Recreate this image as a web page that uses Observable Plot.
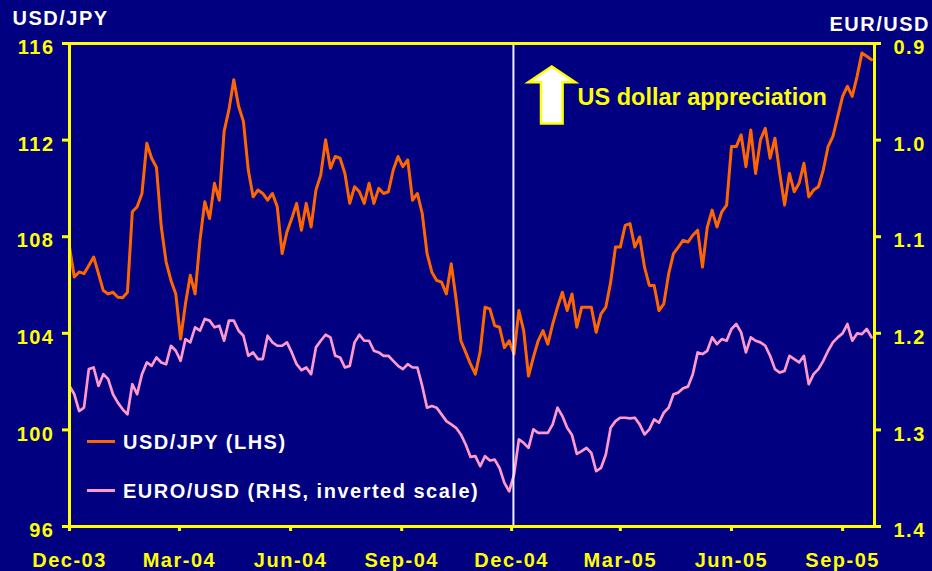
<!DOCTYPE html>
<html>
<head>
<meta charset="utf-8">
<script src="https://cdn.jsdelivr.net/npm/d3@7"></script>
<script src="https://cdn.jsdelivr.net/npm/@observablehq/plot@0.6"></script>
<style>
  html, body { margin: 0; padding: 0; background: #000080; }
  #wrap { position: relative; width: 932px; height: 571px; overflow: hidden; background: #000080;
          font-family: "Liberation Sans", Arial, sans-serif; }
  #wrap svg text { letter-spacing: 1.5px; }
  #wrap svg text.annot { letter-spacing: 0px; }
  .lg-sw { position: absolute; width: 28px; height: 3px; }
  .lg-tx { position: absolute; color: #ffffff; font-size: 20px; line-height: 20px; font-weight: bold;
           letter-spacing: 1.5px; white-space: nowrap; }
</style>
</head>
<body>
<div id="wrap"></div>
<script>
// ---- data ----
const seriesStart = "2003-12-01";   // first observation
const stepDays = 4;                 // spacing between observations

const usdJpy = [
  107.57,106.33,106.54,106.47,106.81,107.16,106.47,105.77,105.63,105.70,
  105.49,105.47,105.70,109.03,109.24,109.79,111.87,111.25,110.87,108.40,
  106.95,106.19,105.63,103.76,105.22,106.40,105.63,107.85,109.45,108.75,
  110.21,109.51,112.36,113.26,114.50,113.40,112.77,110.76,109.65,109.93,
  109.79,109.51,109.79,109.24,107.30,108.20,108.75,109.38,108.27,109.38,
  108.40,109.93,110.55,112.01,110.83,111.32,111.25,110.62,109.38,110.07,
  109.86,109.38,110.21,109.38,110.00,109.79,109.86,110.76,111.32,110.90,
  111.18,109.51,109.79,108.96,107.30,106.53,106.19,106.12,105.63,106.88,
  105.43,103.69,103.21,102.72,102.31,103.25,105.08,105.01,104.32,104.25,
  103.41,103.69,103.14,104.94,104.11,102.23,103.00,103.69,104.11,103.55,
  104.38,105.08,105.70,104.94,105.63,104.25,105.08,105.08,105.08,104.04,
  104.80,105.08,106.12,107.57,107.57,108.47,108.54,107.57,107.99,106.74,
  105.98,105.98,104.94,105.22,106.46,107.30,107.57,107.85,107.78,108.06,
  108.27,106.74,108.40,109.10,108.40,109.03,109.31,111.73,111.73,112.22,
  110.90,112.42,110.62,112.01,112.49,111.25,112.08,110.62,109.31,110.62,
  109.86,110.21,111.04,109.65,109.93,110.07,110.76,111.73,112.15,112.98,
  113.81,114.23,113.81,114.64,115.61,115.47,115.33
];

const eurUsd = [
  1.2545,1.2631,1.2805,1.2770,1.2371,1.2354,1.2545,1.2423,1.2475,1.2631,
  1.2718,1.2787,1.2839,1.2527,1.2631,1.2423,1.2302,1.2337,1.2250,1.2302,
  1.2320,1.2129,1.2181,1.2285,1.2060,1.2094,1.1938,1.1973,1.1852,1.1869,
  1.1938,1.1921,1.2077,1.1869,1.1869,1.1973,1.2025,1.2233,1.2198,1.2267,
  1.2267,1.2025,1.2094,1.2129,1.2129,1.2094,1.2198,1.2320,1.2382,1.2354,
  1.2423,1.2146,1.2077,1.2015,1.2042,1.2233,1.2250,1.2354,1.2337,1.2094,
  1.2015,1.2077,1.2077,1.2181,1.2198,1.2233,1.2233,1.2285,1.2337,1.2371,
  1.2320,1.2354,1.2354,1.2545,1.2770,1.2753,1.2770,1.2839,1.2909,1.2943,
  1.2978,1.3047,1.3151,1.3280,1.3272,1.3376,1.3272,1.3317,1.3307,1.3394,
  1.3549,1.3636,1.3463,1.3099,1.3134,1.3186,1.2995,1.3030,1.3030,1.3030,
  1.2943,1.2770,1.2857,1.2978,1.3054,1.3248,1.3220,1.3186,1.3238,1.3428,
  1.3394,1.3255,1.2978,1.2909,1.2874,1.2874,1.2881,1.2874,1.2943,1.3047,
  1.2995,1.2891,1.2926,1.2822,1.2770,1.2631,1.2614,1.2569,1.2552,1.2423,
  1.2198,1.2215,1.2181,1.2042,1.2112,1.2060,1.2077,1.1956,1.1904,1.1990,
  1.2198,1.2042,1.2077,1.2094,1.2129,1.2233,1.2371,1.2406,1.2389,1.2233,
  1.2267,1.2302,1.2233,1.2527,1.2423,1.2371,1.2285,1.2181,1.2094,1.2042,
  1.2001,1.1904,1.2077,1.2001,1.2008,1.1956,1.2042
];

const xTickDates = ["2003-12-01","2004-03-01","2004-06-01","2004-09-01","2004-12-01","2005-03-01","2005-06-01","2005-09-01"];
const xTickLabels = ["Dec-03","Mar-04","Jun-04","Sep-04","Dec-04","Mar-05","Jun-05","Sep-05"];
const jpyTicks = [96, 100, 104, 108, 112, 116];
const eurTicks = [0.9, 1.0, 1.1, 1.2, 1.3, 1.4];
const jpyDomain = [96, 116];
const eurDomain = [0.9, 1.4];           // inverted: 0.9 at the top
const xDomain = ["2003-12-01", "2005-09-27T10:00Z"];
const markerDate = "2004-12-02T12:00Z"; // vertical white line

const seriesNames = ["USD/JPY (LHS)", "EURO/USD (RHS, inverted scale)"];
const colors = ["#FF6600", "#FF99CC"];
const leftTitle = "USD/JPY";
const rightTitle = "EUR/USD";
const annotationText = "US dollar appreciation";

// ---- build ----
const parse = s => new Date(s.length === 10 ? s + "T00:00Z" : s);
const start = parse(seriesStart);
const dateAt = i => d3.utcDay.offset(start, i * stepDays);
// map EUR/USD (inverted, right axis) onto the USD/JPY scale
const eurToJ = v => jpyDomain[1] - (v - eurDomain[0]) / (eurDomain[1] - eurDomain[0]) * (jpyDomain[1] - jpyDomain[0]);
const jToEur = y => eurDomain[0] + (jpyDomain[1] - y) / (jpyDomain[1] - jpyDomain[0]) * (eurDomain[1] - eurDomain[0]);

const jpyData = usdJpy.map((v, i) => ({date: dateAt(i), v}));
const eurData = eurUsd.map((v, i) => ({date: dateAt(i), v: eurToJ(v)}));
const tickDates = xTickDates.map(parse);
const labelOf = new Map(tickDates.map((d, i) => [+d, xTickLabels[i]]));

const YEL = "#FFFF00";
const FONT = "'Liberation Sans', Arial, sans-serif";
const FS = 20;

const arrowShape = {
  draw(ctx, l) {
    const sw = 10.8, hw = 23.5, hb = l - 15.7;
    ctx.moveTo(-sw, 0);
    ctx.lineTo(sw, 0);
    ctx.lineTo(sw, -hb);
    ctx.lineTo(hw, -hb);
    ctx.lineTo(0, -l);
    ctx.lineTo(-hw, -hb);
    ctx.lineTo(-sw, -hb);
    ctx.closePath();
  }
};

const chart = Plot.plot({
  width: 932,
  height: 571,
  marginLeft: 69,
  marginRight: 58,
  marginTop: 43,
  marginBottom: 45,
  style: {background: "#000080", color: YEL, fontFamily: FONT, fontSize: FS + "px", fontWeight: "bold", overflow: "visible"},
  x: {type: "utc", domain: xDomain.map(parse), axis: null},
  y: {domain: jpyDomain, axis: null},
  marks: [
    Plot.line(jpyData, {x: "date", y: "v", stroke: colors[0], strokeWidth: 3, strokeLinejoin: "round"}),
    Plot.line(eurData, {x: "date", y: "v", stroke: colors[1], strokeWidth: 2.7, strokeLinejoin: "round"}),
    Plot.ruleX([parse(markerDate)], {stroke: "#F0F0FF", strokeWidth: 2}),
    Plot.frame({stroke: YEL, strokeWidth: 3}),
    // left axis: ticks, then labels
    Plot.axisY(jpyTicks, {anchor: "left", tickSize: 7, strokeWidth: 3, fill: "none", label: null}),
    Plot.axisY(jpyTicks, {anchor: "left", tickSize: 7, tickPadding: 8, stroke: "none", dy: 4.2, label: null,
      fontSize: FS, fontWeight: "bold", tickFormat: d => String(d)}),
    // right axis (EUR/USD, inverted)
    Plot.axisY(eurTicks.map(eurToJ), {anchor: "right", tickSize: 6, strokeWidth: 3, fill: "none", label: null}),
    Plot.axisY(eurTicks.map(eurToJ), {anchor: "right", tickSize: 6, tickPadding: 13, stroke: "none", dy: 4.2, label: null,
      fontSize: FS, fontWeight: "bold", tickFormat: y => jToEur(y).toFixed(1)}),
    // bottom axis
    Plot.axisX(tickDates, {anchor: "bottom", tickSize: 5, strokeWidth: 3, fill: "none", label: null}),
    Plot.axisX(tickDates, {anchor: "bottom", tickSize: 5, tickPadding: 20.8, stroke: "none", label: null,
      fontSize: FS, fontWeight: "bold", tickFormat: d => labelOf.get(+d)}),
    // axis titles
    Plot.text([leftTitle], {frameAnchor: "top-left", text: d => d, textAnchor: "start", lineAnchor: "bottom",
      dx: -57, dy: -19, fill: "white", fontSize: FS, fontWeight: "bold"}),
    Plot.text([rightTitle], {frameAnchor: "top-right", text: d => d, textAnchor: "end", lineAnchor: "bottom",
      dx: 55.5, dy: -13, fill: "white", fontSize: FS, fontWeight: "bold"}),
    // annotation arrow + text
    Plot.vector([0], {frameAnchor: "top-left", length: 57, rotate: 0, anchor: "start", shape: arrowShape,
      dx: 482.3, dy: 80, fill: "white", stroke: YEL, strokeWidth: 2.5, strokeLinejoin: "miter"}),
    Plot.text([annotationText], {frameAnchor: "top-left", text: d => d, textAnchor: "start", lineAnchor: "bottom",
      dx: 508, dy: 61, fill: YEL, fontSize: 23.5, fontWeight: "bold"})
  ]
});

// the annotation caption is set without the extra tracking used elsewhere
d3.select(chart).selectAll("text").filter(function() { return this.textContent === annotationText; })
  .classed("annot", true).style("letter-spacing", "0px");

const wrap = document.getElementById("wrap");
wrap.appendChild(chart);

// legend (inside the plot area, lower left)
const legendRows = [{top: 432, sw: 440}, {top: 480.5, sw: 488.5}];
seriesNames.forEach((name, i) => {
  const sw = document.createElement("div");
  sw.className = "lg-sw";
  sw.style.left = "87px";
  sw.style.top = legendRows[i].sw + "px";
  sw.style.background = colors[i];
  wrap.appendChild(sw);
  const tx = document.createElement("div");
  tx.className = "lg-tx";
  tx.style.left = "123px";
  tx.style.top = legendRows[i].top + "px";
  tx.textContent = name;
  wrap.appendChild(tx);
});
</script>
</body>
</html>
